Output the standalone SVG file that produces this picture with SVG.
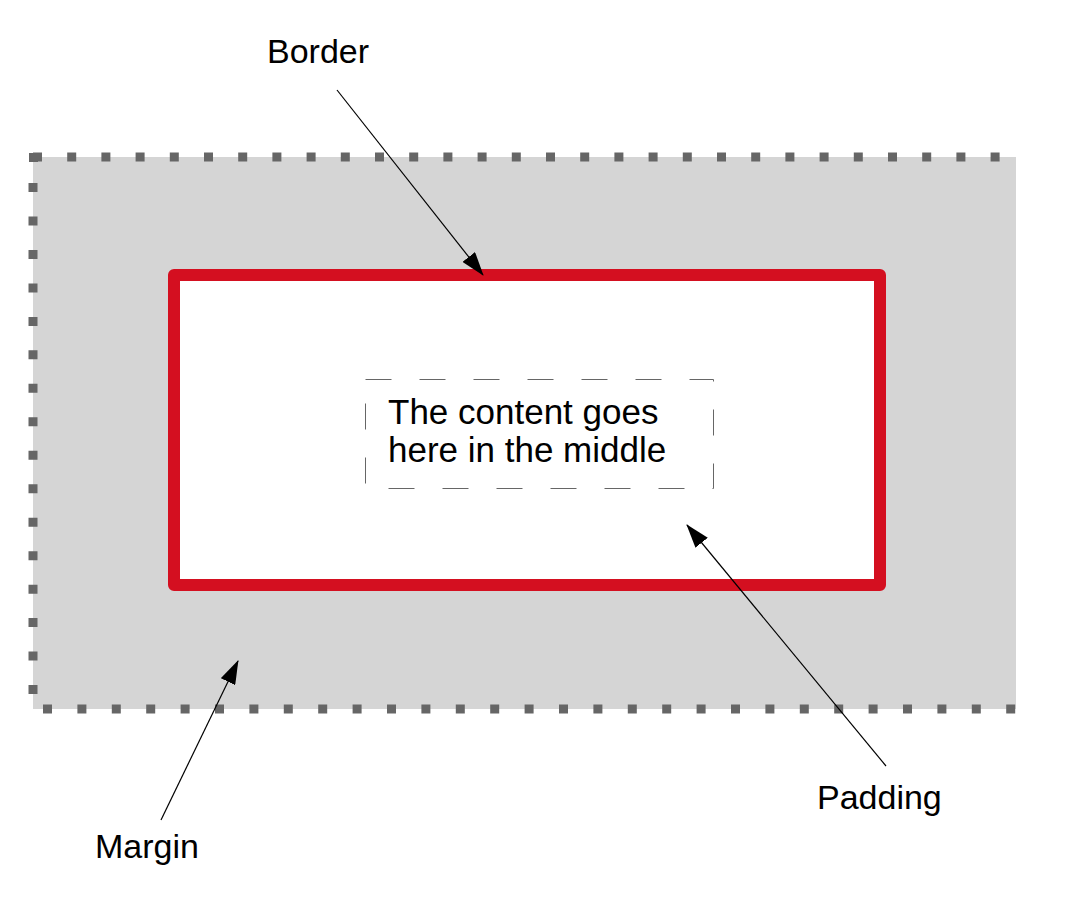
<svg xmlns="http://www.w3.org/2000/svg" width="1069" height="903" viewBox="0 0 1069 903">
<style>
.lbl{font-family:"Liberation Sans",Arial,sans-serif;font-size:34px;fill:#000}
.big{font-size:35px}
.dots{stroke:#666;stroke-width:9;fill:none}
.ptr{stroke:#000;stroke-width:1.2;fill:none}
</style>
<defs>
<marker id="ah" viewBox="0 0 24 16" refX="23" refY="8" markerWidth="24" markerHeight="16" markerUnits="userSpaceOnUse" orient="auto">
<path d="M0,0 L24,8 L0,16 z" fill="#000"/>
</marker>
</defs>
<rect width="1069" height="903" fill="#fff"/>
<g id="margin">
<rect x="33" y="157" width="983" height="552" fill="#d5d5d5"/>
<line class="dots" x1="33" y1="157" x2="1016" y2="157" stroke-dasharray="9 25.2"/>
<line class="dots" x1="33" y1="183" x2="33" y2="700" stroke-dasharray="9 24.47"/>
<rect x="29" y="153" width="9" height="9" fill="#666"/>
<line class="dots" x1="43" y1="709" x2="1016" y2="709" stroke-dasharray="9 25.4"/>
</g>
<g id="border">
<rect x="174" y="275" width="706" height="310" fill="#fff" stroke="#d40f20" stroke-width="12" stroke-linejoin="round"/>
</g>
<g id="content">
<rect x="365.5" y="379.5" width="348" height="109" fill="none" stroke="#666" stroke-width="1" stroke-dasharray="26 28"/>
<text class="lbl big" x="388" y="424">The content goes</text>
<text class="lbl big" x="388" y="462">here in the middle</text>
</g>
<g id="labels">
<text class="lbl" x="267" y="63">Border</text>
<text class="lbl" x="817" y="809">Padding</text>
<text class="lbl" x="95" y="858">Margin</text>
</g>
<g id="connectors">
<line class="ptr" x1="337" y1="90" x2="483" y2="275" marker-end="url(#ah)"/>
<line class="ptr" x1="886" y1="766" x2="687" y2="525" marker-end="url(#ah)"/>
<line class="ptr" x1="161" y1="820" x2="238" y2="661" marker-end="url(#ah)"/>
</g>
</svg>
